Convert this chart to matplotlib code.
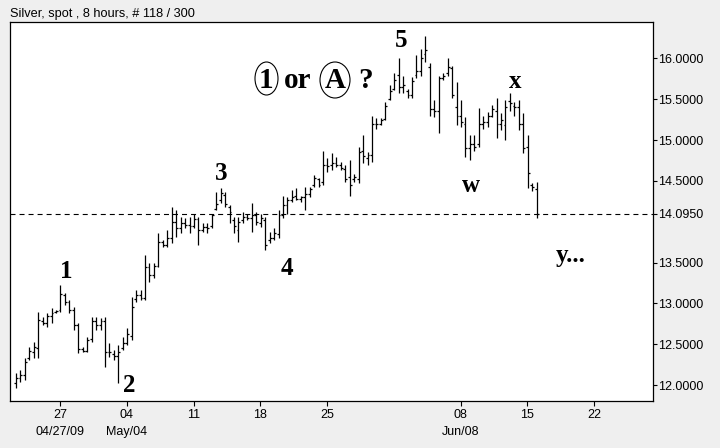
import numpy as np
import matplotlib
matplotlib.use("Agg")
import matplotlib.pyplot as plt
from matplotlib.collections import LineCollection
from matplotlib.patches import Ellipse

# ---------------- data (8-hour OHLC bars) ----------------
highs = [12.15, 12.18, 12.33, 12.46, 12.53, 12.89, 12.83, 12.88, 12.94, 12.92,
         13.22, 13.13, 13.04, 12.95, 12.76, 12.46, 12.59, 12.83, 12.83, 12.82,
         12.83, 12.51, 12.43, 12.49, 12.59, 12.70, 13.08, 13.16, 13.16, 13.59,
         13.50, 13.49, 13.86, 13.77, 13.90, 14.18, 14.14, 14.06, 14.04, 14.06,
         14.10, 14.06, 13.99, 13.98, 14.10, 14.36, 14.41, 14.36, 14.20, 14.06,
         14.06, 14.12, 14.10, 14.23, 14.12, 14.10, 14.06, 13.87, 13.92, 14.14,
         14.32, 14.30, 14.39, 14.41, 14.32, 14.42, 14.42, 14.57, 14.53, 14.87,
         14.78, 14.84, 14.79, 14.73, 14.69, 14.75, 14.59, 14.91, 15.06, 14.85,
         15.30, 15.27, 15.27, 15.46, 15.67, 15.82, 16.00, 15.79, 15.63, 15.77,
         16.04, 16.12, 16.28, 15.94, 15.49, 15.79, 15.82, 16.00, 15.91, 15.71,
         15.49, 15.28, 15.06, 15.06, 15.39, 15.30, 15.34, 15.43, 15.52, 15.33,
         15.49, 15.57, 15.46, 15.49, 15.33, 15.06, 14.47, 14.48]
lows = [11.96, 12.04, 12.06, 12.31, 12.33, 12.33, 12.73, 12.71, 12.76, 12.88,
        12.89, 12.98, 12.88, 12.67, 12.39, 12.40, 12.40, 12.53, 12.67, 12.67,
        12.22, 12.34, 12.31, 12.02, 12.43, 12.49, 12.55, 13.02, 13.04, 13.04,
        13.26, 13.31, 13.44, 13.69, 13.69, 13.74, 13.81, 13.86, 13.92, 13.86,
        13.92, 13.71, 13.87, 13.86, 13.92, 14.14, 14.23, 14.18, 13.98, 13.86,
        13.75, 13.98, 14.02, 13.87, 13.96, 13.93, 13.65, 13.74, 13.77, 13.80,
        14.04, 14.10, 14.24, 14.26, 14.24, 14.14, 14.30, 14.42, 14.42, 14.45,
        14.61, 14.63, 14.67, 14.63, 14.48, 14.32, 14.48, 14.47, 14.72, 14.69,
        14.73, 15.14, 15.18, 15.24, 15.49, 15.61, 15.58, 15.57, 15.51, 15.52,
        15.76, 15.79, 15.95, 15.30, 15.28, 15.09, 15.73, 15.79, 15.51, 15.18,
        15.16, 14.79, 14.75, 14.87, 14.91, 15.14, 15.16, 15.28, 15.03, 15.12,
        15.00, 15.36, 15.30, 15.12, 14.84, 14.41, 14.38, 14.05]
opens = [12.02, 12.08, 12.12, 12.33, 12.40, 12.45, 12.78, 12.76, 12.84, 12.89,
         12.92, 13.10, 13.02, 12.92, 12.74, 12.44, 12.42, 12.56, 12.79, 12.74,
         12.79, 12.40, 12.38, 12.35, 12.45, 12.52, 12.60, 13.05, 13.10, 13.07,
         13.45, 13.35, 13.46, 13.75, 13.72, 13.80, 14.00, 13.92, 13.98, 13.96,
         13.95, 14.03, 13.90, 13.93, 13.95, 14.15, 14.26, 14.33, 14.18, 14.02,
         13.90, 14.02, 14.06, 14.05, 14.08, 13.98, 14.02, 13.77, 13.80, 13.85,
         14.08, 14.20, 14.26, 14.32, 14.28, 14.30, 14.34, 14.45, 14.52, 14.48,
         14.70, 14.70, 14.72, 14.70, 14.64, 14.55, 14.52, 14.52, 14.86, 14.78,
         14.82, 15.20, 15.20, 15.26, 15.50, 15.62, 15.80, 15.65, 15.60, 15.55,
         15.80, 15.85, 16.05, 15.90, 15.38, 15.35, 15.76, 15.82, 15.88, 15.40,
         15.30, 15.20, 14.90, 14.95, 14.95, 15.20, 15.22, 15.30, 15.35, 15.20,
         15.18, 15.48, 15.42, 15.40, 15.20, 14.92, 14.45, 14.40]
closes = [12.08, 12.12, 12.28, 12.42, 12.47, 12.80, 12.76, 12.84, 12.88, 12.91,
          13.12, 13.02, 12.92, 12.74, 12.44, 12.42, 12.55, 12.79, 12.74, 12.79,
          12.40, 12.40, 12.36, 12.40, 12.52, 12.62, 12.95, 13.10, 13.07, 13.45,
          13.35, 13.46, 13.75, 13.72, 13.80, 14.00, 13.92, 13.98, 13.96, 13.95,
          14.03, 13.90, 13.93, 13.92, 14.08, 14.22, 14.35, 14.22, 14.12, 13.95,
          14.00, 14.06, 14.05, 14.08, 14.00, 14.04, 13.72, 13.80, 13.86, 14.08,
          14.20, 14.26, 14.30, 14.28, 14.30, 14.34, 14.40, 14.54, 14.45, 14.70,
          14.68, 14.72, 14.70, 14.66, 14.52, 14.45, 14.55, 14.85, 14.80, 14.82,
          15.20, 15.20, 15.24, 15.42, 15.60, 15.74, 15.65, 15.68, 15.55, 15.72,
          15.85, 16.00, 16.10, 15.38, 15.35, 15.76, 15.78, 15.90, 15.55, 15.30,
          15.22, 14.90, 14.95, 14.92, 15.20, 15.22, 15.30, 15.38, 15.20, 15.25,
          15.40, 15.45, 15.40, 15.20, 14.90, 14.60, 14.42, 14.10]

# weekly axis labels (week number from Apr 27; the Jun 01 week has no label)
week_numbers = [0, 1, 2, 3, 4, 6, 7, 8]
week_labels = ["27", "04", "11", "18", "25", "08", "15", "22"]
month_labels = {0: "04/27/09", 1: "May/04", 6: "Jun/08"}
price_ticks = [12.0, 12.5, 13.0, 13.5, 14.095, 14.5, 15.0, 15.5, 16.0]
ref_level = 14.095
title = "Silver, spot , 8 hours, # 118 / 300"

# ---------------- figure ----------------
W, H = 720, 448
BG = "#efefef"
fig = plt.figure(figsize=(W / 100, H / 100), dpi=100, facecolor=BG)
plt.rcParams["lines.scale_dashes"] = False
sans = ["Liberation Sans", "DejaVu Sans"]
serif = ["Liberation Serif", "DejaVu Serif"]

left_px, right_px, top_px, bot_px = 9.5, 653.3, 22.3, 400.7
ax = fig.add_axes([left_px / W, 1 - bot_px / H,
                   (right_px - left_px) / W, (bot_px - top_px) / H])
ax.set_facecolor("white")

n = len(highs)
idx = np.arange(n)
hw = 0.42
segs = []
for i in range(n):
    segs.append([(idx[i], lows[i]), (idx[i], highs[i])])
    segs.append([(idx[i] - hw, opens[i]), (idx[i], opens[i])])
    segs.append([(idx[i], closes[i]), (idx[i] + hw, closes[i])])
ax.add_collection(LineCollection(segs, colors="black", linewidths=0.9,
                                 capstyle="butt"))

ax.axhline(ref_level, color="black", lw=0.8, dashes=(3.6, 2.9))

# axis limits: bar spacing ~4.45 px
bar_px = 4.45
ax.set_xlim(-(16 - left_px) / bar_px, (right_px - 16) / bar_px)
ppu = 81.75
ax.set_ylim(12 - (bot_px - 385) / ppu, 16 + (58 - top_px) / ppu + 0.005)

# x ticks (weekly, 15 bars per week)
bars_per_week = 15
first_week = 9.9
week_pos = {w: first_week + bars_per_week * w for w in week_numbers}
ax.set_xticks([week_pos[w] for w in week_numbers])
ax.set_xticklabels(week_labels, fontfamily=sans, fontsize=9)
for w, lab in month_labels.items():
    ax.text(week_pos[w], -0.083, lab, transform=ax.get_xaxis_transform(),
            ha="center", va="center", fontsize=9, family=sans)

ax.yaxis.tick_right()
ax.set_yticks(price_ticks)
ax.set_yticklabels([f"{v:.4f}" for v in price_ticks], fontfamily=sans, fontsize=9)
ax.tick_params(axis="y", direction="out", length=3, width=0.8, pad=0.5,
               left=False, right=True)
ax.tick_params(axis="x", direction="out", length=3.5, width=0.8, pad=2.5,
               top=False)
for s in ax.spines.values():
    s.set_color("black")
    s.set_linewidth(0.9)

fig.text(10 / W, 1 - 14 / H, title, ha="left", va="center",
         fontsize=9.2, family=sans)

# ---------------- wave annotations ----------------
def fx(x):
    return x / W

def fy(y):
    return 1 - y / H

labels = [("1", 66, 278), ("2", 129, 392), ("3", 221, 180), ("4", 287, 275),
          ("5", 401, 47), ("x", 515, 88), ("w", 471, 192)]
for t, x, y in labels:
    fig.text(fx(x), fy(y), t, ha="center", va="baseline", fontsize=18,
             family=serif, fontweight="bold")
fig.text(fx(556), fy(262), "y...", ha="left", va="baseline", fontsize=18,
         family=serif, fontweight="bold")

fig.text(fx(266), fy(88), "1", ha="center", va="baseline", fontsize=21,
         family=serif, fontweight="bold")
fig.text(fx(297.5), fy(88), "or", ha="center", va="baseline", fontsize=21,
         family=serif, fontweight="bold")
fig.text(fx(335), fy(88), "A", ha="center", va="baseline", fontsize=21,
         family=serif, fontweight="bold")
fig.text(fx(366), fy(88), "?", ha="center", va="baseline", fontsize=21,
         family=serif, fontweight="bold")
fig.add_artist(Ellipse((fx(266.5), fy(78.5)), 23 / W, 33 / H, fill=False,
                       ec="black", lw=0.8, transform=fig.transFigure))
fig.add_artist(Ellipse((fx(335), fy(80)), 30 / W, 36 / H, fill=False,
                       ec="black", lw=0.8, transform=fig.transFigure))

fig.savefig("out.png", dpi=100, facecolor=BG)
